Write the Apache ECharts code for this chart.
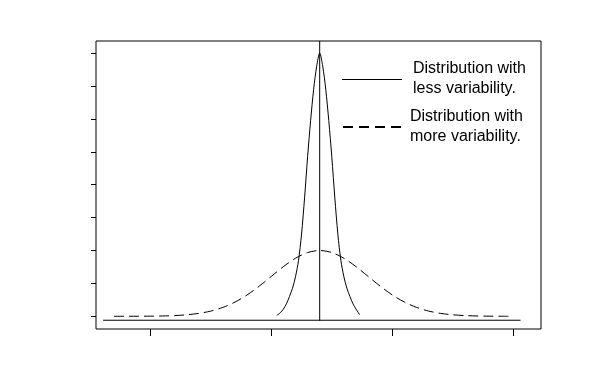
<!DOCTYPE html>
<html><head><meta charset="utf-8">
<script src="https://cdn.jsdelivr.net/npm/echarts@6/dist/echarts.min.js"></script>
<style>html,body{margin:0;padding:0;background:#fff}#c{width:612px;height:392px}</style>
</head><body><div id="c"></div>
<script>
// Tick positions (no labels are printed on the reference)
const xTicks = [10, 20, 30, 40];
const yTicks = [0, 1, 2, 3, 4, 5, 6, 7, 8];

// Distribution with less variability (solid)
const narrowX = [20.45, 20.75, 21.0, 21.25, 21.5, 21.75, 22.0, 22.25, 22.5, 22.75, 23.0, 23.25, 23.5, 23.75, 24.0,
                 24.25, 24.5, 24.75, 25.0, 25.25, 25.5, 25.75, 26.0, 26.25, 26.5, 26.75, 27.0, 27.3];
const narrowY = [0.03, 0.11, 0.22, 0.38, 0.6, 0.85, 1.2, 1.7, 2.5, 3.6, 4.85, 5.95, 6.9, 7.6, 8.0,
                 7.6, 6.9, 5.95, 4.85, 3.6, 2.5, 1.7, 1.2, 0.85, 0.6, 0.38, 0.22, 0.05];

// Distribution with more variability (dashed)
const wideX = [7, 8, 9, 10, 11, 12, 13, 14, 15, 16, 17, 18, 19, 20, 21, 22, 23, 24,
               25, 26, 27, 28, 29, 30, 31, 32, 33, 34, 35, 36, 37, 38, 39, 39.6];
const wideY = [0.0, 0.001, 0.002, 0.004, 0.010, 0.022, 0.046, 0.088, 0.159, 0.271, 0.433, 0.649, 0.916, 1.213, 1.510, 1.765, 1.938, 2.0,
               1.938, 1.765, 1.510, 1.213, 0.916, 0.649, 0.433, 0.271, 0.159, 0.088, 0.046, 0.022, 0.010, 0.004, 0.002, 0.001];

// Reference lines
const meanX = [24, 24];
const meanY = [-0.14, 8.368];
const baseX = [6.1, 40.6];
const baseY = [-0.12, -0.12];

const legendLabels = ['Distribution with\nless variability.', 'Distribution with\nmore variability.'];

const zip = (xs, ys) => xs.map((x, i) => [x, ys[i]]);

const chart = echarts.init(document.getElementById('c'), null, {renderer: 'canvas'});
const black = '#000';
chart.setOption({
  animation: false,
  backgroundColor: '#fff',
  grid: {left: 96, top: 41, right: 71, bottom: 63, show: true, borderColor: black, borderWidth: 1, backgroundColor: 'transparent'},
  xAxis: {
    type: 'value', min: 5.512, max: 42.29,
    splitLine: {show: false},
    axisLine: {show: false, onZero: false},
    axisLabel: {show: false},
    axisTick: {show: true, customValues: xTicks, length: 7, lineStyle: {color: black, width: 1}}
  },
  yAxis: {
    type: 'value', min: -0.386, max: 8.368,
    splitLine: {show: false},
    axisLine: {show: false, onZero: false},
    axisLabel: {show: false},
    axisTick: {show: true, customValues: yTicks, length: 5, lineStyle: {color: black, width: 1}}
  },
  series: [
    {type: 'line', data: zip(baseX, baseY), symbol: 'none', lineStyle: {color: black, width: 1}},
    {type: 'line', data: zip(meanX, meanY), symbol: 'none', lineStyle: {color: black, width: 1}},
    {type: 'line', data: zip(narrowX, narrowY), symbol: 'none', smooth: 0.3, lineStyle: {color: black, width: 1}},
    {type: 'line', data: zip(wideX, wideY), symbol: 'none', smooth: 0.3, lineStyle: {color: black, width: 1, type: [10, 5]}}
  ],
  graphic: [
    {type: 'line', shape: {x1: 342, y1: 79.5, x2: 402, y2: 79.5}, style: {stroke: black, lineWidth: 1}},
    {type: 'line', shape: {x1: 343, y1: 127, x2: 402, y2: 127}, style: {stroke: black, lineWidth: 2, lineDash: [10, 6]}},
    {type: 'text', x: 413, y: 58.5, style: {text: legendLabels[0], font: '16px "Liberation Sans", Arial, sans-serif', lineHeight: 20, fill: black, verticalAlign: 'top'}},
    {type: 'text', x: 410, y: 106.5, style: {text: legendLabels[1], font: '16px "Liberation Sans", Arial, sans-serif', lineHeight: 20, fill: black, verticalAlign: 'top'}}
  ]
});
</script>
</body></html>
